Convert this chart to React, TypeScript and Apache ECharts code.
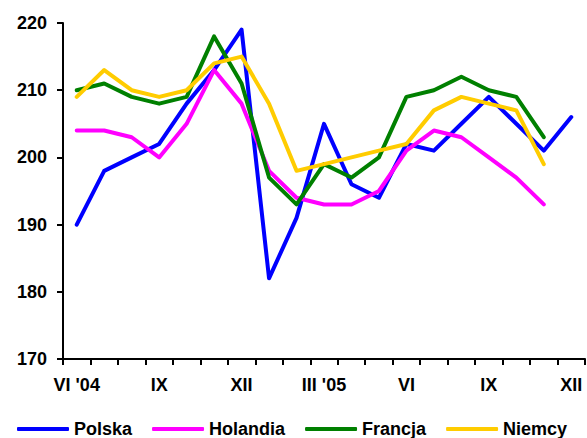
import React, { useEffect, useRef } from "react";
import * as echarts from "echarts";

const categories = ["VI '04", "VII", "VIII", "IX", "X", "XI", "XII", "I", "II", "III '05", "IV", "V", "VI", "VII", "VIII", "IX", "X", "XI", "XII"];
const polska = [190, 198, 200, 202, 208, 213, 219, 182, 191, 205, 196, 194, 202, 201, 205, 209, 205, 201, 206];
const holandia = [204, 204, 203, 200, 205, 213, 208, 198, 194, 193, 193, 195, 201, 204, 203, 200, 197, 193];
const francja = [210, 211, 209, 208, 209, 218, 211, 197, 193, 199, 197, 200, 209, 210, 212, 210, 209, 203];
const niemcy = [209, 213, 210, 209, 210, 214, 215, 208, 198, 199, 200, 201, 202, 207, 209, 208, 207, 199];
const yTicks = { min: 170, max: 220, interval: 10 };

const FONT = "'Liberation Sans', Arial, sans-serif";

export default function App() {
  const ref = useRef<HTMLDivElement>(null);
  useEffect(() => {
    if (!ref.current) return;
    const chart = echarts.init(ref.current, undefined, { renderer: "svg" });
    const mk = (name: string, data: number[], color: string) => ({
      name,
      type: "line",
      data,
      symbol: "none",
      showSymbol: false,
      lineStyle: { color, width: 4, cap: "round", join: "round" },
      itemStyle: { color },
    });
    chart.setOption({
      animation: false,
      backgroundColor: "#ffffff",
      grid: { left: 63, right: 2, top: 23, bottom: 79 },
      legend: {
        left: 12,
        top: 415,
        icon: "roundRect",
        itemWidth: 52,
        itemHeight: 4,
        itemGap: 20,
        textStyle: { fontFamily: FONT, fontWeight: "bold", fontSize: 18, color: "#000" },
        data: ["Polska", "Holandia", "Francja", "Niemcy"],
      },
      xAxis: {
        type: "category",
        data: categories,
        boundaryGap: true,
        axisLine: { show: true, lineStyle: { color: "#000", width: 2 } },
        axisTick: { show: true, interval: 0, length: 6, lineStyle: { color: "#000", width: 2 } },
        axisLabel: { interval: 2, margin: 17, fontFamily: FONT, fontWeight: "bold", fontSize: 18, color: "#000" },
        splitLine: { show: false },
      },
      yAxis: {
        type: "value",
        min: yTicks.min,
        max: yTicks.max,
        interval: yTicks.interval,
        axisLine: { show: true, lineStyle: { color: "#000", width: 2 } },
        axisTick: { show: true, length: 6, lineStyle: { color: "#000", width: 2 } },
        axisLabel: { margin: 16, fontFamily: FONT, fontWeight: "bold", fontSize: 18, color: "#000" },
        splitLine: { show: false },
      },
      series: [
        mk("Polska", polska, "#0000ff"),
        mk("Holandia", holandia, "#ff00ff"),
        mk("Francja", francja, "#008000"),
        mk("Niemcy", niemcy, "#ffcc00"),
      ],
    });
    return () => chart.dispose();
  }, []);
  return <div ref={ref} style={{ position: "fixed", left: 0, top: 0, width: 587, height: 438, background: "#fff" }} />;
}
